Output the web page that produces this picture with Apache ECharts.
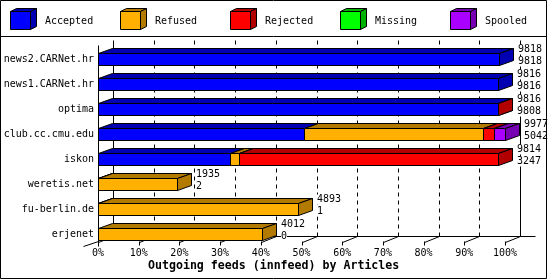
<!DOCTYPE html>
<html>
<head>
<meta charset="utf-8">
<script src="https://cdn.jsdelivr.net/npm/echarts@6/dist/echarts.min.js"></script>
<style>
html,body{margin:0;padding:0;background:#fff;}
#chart{width:550px;height:280px;}
</style>
</head>
<body>
<div id="chart"></div>
<script>
// ---- data ----
var categories = ['news2.CARNet.hr','news1.CARNet.hr','optima','club.cc.cmu.edu','iskon','weretis.net','fu-berlin.de','erjenet'];
var seriesNames = ['Accepted','Refused','Rejected','Missing','Spooled'];
var accepted = [9818, 9816, 9808, 5042, 3247, 2, 1, 0];
var refused  = [0, 0, 0, 4403, 217, 1933, 4892, 4012];
var rejected = [0, 0, 8, 270, 6350, 0, 0, 0];
var missing  = [0, 0, 0, 0, 0, 0, 0, 0];
var spooled  = [0, 0, 0, 262, 0, 0, 0, 0];
var totals   = [9818, 9816, 9816, 9977, 9814, 1935, 4893, 4012];
var tickValues = [0,10,20,30,40,50,60,70,80,90,100];

// ---- style ----
var frontColors = ['#0000ff','#ffb000','#ff0000','#00ff00','#aa00ff'];
var darkColors  = ['#0000b2','#b27b00','#b20000','#00b200','#7700b2'];
var MONO = '"DejaVu Sans Mono", "Liberation Mono", monospace';
var DX = 14, DY = 5;     // bar depth
var WDX = 15, WDY = 5;   // wall depth

var segs = [accepted, refused, rejected, missing, spooled];
var maxTotal = Math.max.apply(null, totals);

var chart = echarts.init(document.getElementById('chart'), null, {renderer:'canvas'});

function r5(v){ return Math.round(v - 0.5) + 0.5; }

function barRender(si){
  return function(params, api){
    var s = api.value(0), e = api.value(1), ci = api.value(2), raw = api.value(3);
    if (!raw) return null;
    var p0 = api.coord([s, ci]), p1 = api.coord([e, ci]);
    var c = p0[1];
    var top = Math.round(c - 6.5) + 0.5, bot = top + 12;
    var x0 = Math.round(p0[0]) + 0.5, x1 = Math.round(p1[0]) + 0.5;
    var st = {stroke:'#000', lineWidth:1};
    return {type:'group', children:[
      {type:'polygon', shape:{points:[[x0,top],[x1,top],[x1,bot],[x0,bot]]}, style:Object.assign({fill:frontColors[si]}, st)},
      {type:'polygon', shape:{points:[[x0,top],[x1,top],[x1+DX,top-DY],[x0+DX,top-DY]]}, style:Object.assign({fill:darkColors[si]}, st)},
      {type:'polygon', shape:{points:[[x1,top],[x1+DX,top-DY],[x1+DX,bot-DY],[x1,bot]]}, style:Object.assign({fill:darkColors[si]}, st)}
    ]};
  };
}

var series = [];

// frame / grid
series.push({
  type:'custom', name:'frame', silent:true, z:1,
  data: tickValues.map(function(v){ return [v, 0]; }),
  encode:{x:0, y:1},
  renderItem:function(params, api){
    var v = api.value(0);
    var fx = Math.round(api.coord([v,0])[0]) + 0.5;
    var yTopFront = Math.round(api.coord([0,0])[1] - 14.5) + 0.5;
    var yFloor = Math.round(api.coord([0,categories.length-1])[1] + 6) + 0.5;
    var yTopBack = yTopFront - WDY, yFloorBack = yFloor - WDY;
    var bx = fx + WDX;
    var ls = {stroke:'#000', lineWidth:1};
    var ch = [];
    // front tick
    ch.push({type:'line', shape:{x1:fx, y1:yFloor, x2:fx, y2:yFloor+4}, style:ls});
    // floor diagonal
    ch.push({type:'line', shape:{x1:fx, y1:yFloor+1, x2:bx, y2:yFloorBack}, style:ls});
    if (v === 0) {
      ch.push({type:'line', shape:{x1:fx, y1:yTopFront, x2:fx, y2:yFloor+5}, style:ls});
      ch.push({type:'line', shape:{x1:bx, y1:yTopBack, x2:bx, y2:yFloorBack}, style:ls});
      ch.push({type:'line', shape:{x1:fx-15, y1:yFloor+5, x2:fx, y2:yFloor}, style:ls});
    } else if (v === 100) {
      ch.push({type:'line', shape:{x1:bx, y1:yTopBack, x2:bx, y2:yFloorBack}, style:ls});
      var b0 = Math.round(api.coord([0,0])[0]) + 0.5 + WDX;
      ch.push({type:'line', shape:{x1:b0, y1:yFloorBack, x2:bx+15, y2:yFloorBack}, style:ls});
    } else {
      ch.push({type:'line', shape:{x1:bx, y1:yTopBack, x2:bx, y2:yFloorBack}, style:{stroke:'#000', lineWidth:1, lineDash:[4,4]}});
    }
    return {type:'group', children:ch};
  }
});

// bars
for (var si = 0; si < segs.length; si++) {
  var data = [];
  for (var ci = 0; ci < categories.length; ci++) {
    var start = 0;
    for (var k = 0; k < si; k++) start += segs[k][ci];
    var end = start + segs[si][ci];
    data.push([start / maxTotal * 100, end / maxTotal * 100, ci, segs[si][ci]]);
  }
  series.push({
    type:'custom', name:seriesNames[si], z:2 + si,
    data:data, encode:{x:[0,1], y:2},
    renderItem:barRender(si)
  });
}

// value labels
series.push({
  type:'custom', name:'labels', z:10, silent:true,
  data: categories.map(function(c, i){ return [totals[i] / maxTotal * 100, i, totals[i], accepted[i]]; }),
  encode:{x:0, y:1},
  renderItem:function(params, api){
    var p = api.coord([api.value(0), api.value(1)]);
    var top = Math.round(p[1] - 6.5);
    var x = Math.round(p[0]) + DX + 5;
    var f = '10px ' + MONO;
    return {type:'group', children:[
      {type:'text', style:{text:String(api.value(2)), x:x, y:top - 3.5, font:f, fill:'#000', verticalAlign:'middle', align:'left', backgroundColor:'#fff'}},
      {type:'text', style:{text:String(api.value(3)), x:x, y:top + 8.5, font:f, fill:'#000', verticalAlign:'middle', align:'left', backgroundColor:'#fff'}}
    ]};
  }
});

// legend graphics
var graphic = [
  {type:'rect', shape:{x:0.5, y:0.5, width:546, height:278}, style:{fill:'none', stroke:'#000', lineWidth:1}, z:100},
  {type:'line', shape:{x1:0.5, y1:36.5, x2:546.5, y2:36.5}, style:{stroke:'#000', lineWidth:1}, z:100}
];
for (var li = 0; li < seriesNames.length; li++) {
  var lx = 10.5 + li * 110.1;
  lx = Math.round(lx - 0.5) + 0.5;
  var ly = 11.5, w = 20, h = 18, dx = 6, dy = 3;
  graphic.push({type:'polygon', shape:{points:[[lx,ly],[lx+w,ly],[lx+w,ly+h],[lx,ly+h]]}, style:{fill:frontColors[li], stroke:'#000', lineWidth:1}, z:100});
  graphic.push({type:'polygon', shape:{points:[[lx,ly],[lx+w,ly],[lx+w+dx,ly-dy],[lx+dx,ly-dy]]}, style:{fill:darkColors[li], stroke:'#000', lineWidth:1}, z:100});
  graphic.push({type:'polygon', shape:{points:[[lx+w,ly],[lx+w+dx,ly-dy],[lx+w+dx,ly+h-dy],[lx+w,ly+h]]}, style:{fill:darkColors[li], stroke:'#000', lineWidth:1}, z:100});
  graphic.push({type:'text', style:{text:seriesNames[li], x:Math.round(44.6 + li*110.1), y:21, font:'10px ' + MONO, fill:'#000', verticalAlign:'middle', align:'left'}, z:100});
}

var option = {
  animation:false,
  backgroundColor:'#fff',
  title:{
    text:'Outgoing feeds (innfeed) by Articles',
    left:148, top:259, padding:0,
    textStyle:{fontFamily:MONO, fontWeight:'bold', fontSize:11.6, color:'#000', lineHeight:14}
  },
  grid:{left:98, top:47, width:407, height:200, containLabel:false},
  xAxis:{
    type:'value', min:0, max:100, interval:10,
    axisLine:{show:false}, axisTick:{show:false}, splitLine:{show:false},
    axisLabel:{formatter:'{value}%', fontFamily:MONO, fontSize:10, color:'#000', margin:0, lineHeight:12}
  },
  yAxis:{
    type:'category', inverse:true, data:categories,
    axisLine:{show:false}, axisTick:{show:false}, splitLine:{show:false},
    axisLabel:{fontFamily:MONO, fontSize:10, color:'#000', margin:4}
  },
  graphic:graphic,
  series:series
};
chart.setOption(option);
</script>
</body>
</html>
